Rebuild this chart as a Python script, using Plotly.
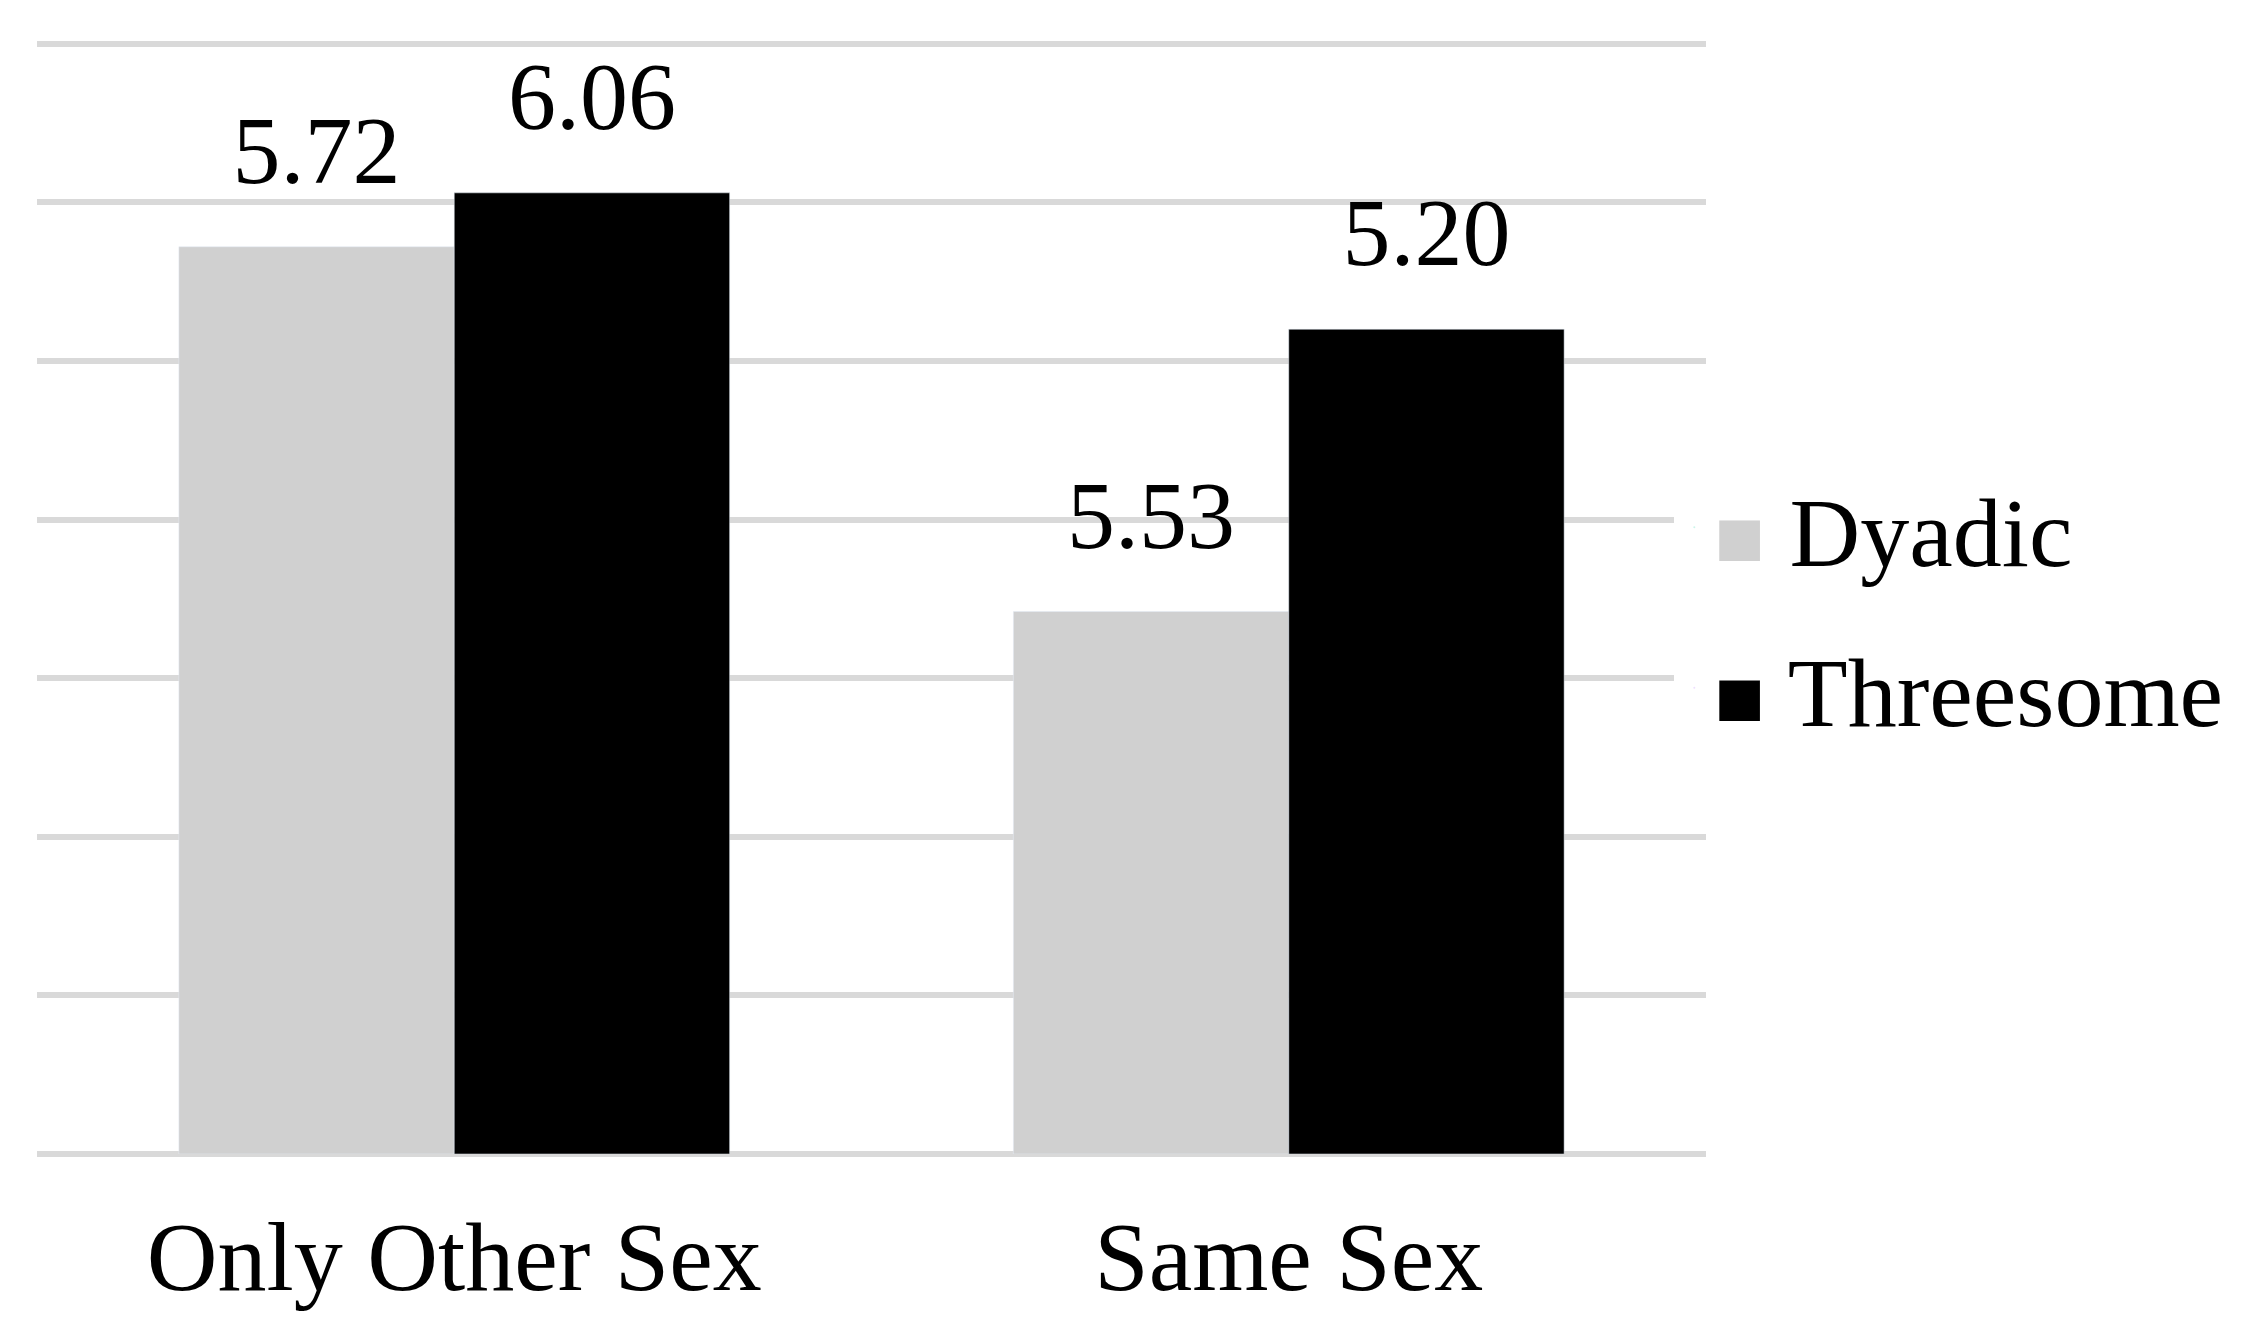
import plotly.graph_objects as go

# categories and series
categories = ["Only Other Sex", "Same Sex"]
series_names = ["Dyadic", "Threesome"]
dyadic = [5.72, 3.42]
threesome = [6.06, 5.20]
dyadic_labels = ["5.72", "5.53"]
threesome_labels = ["6.06", "5.20"]
colors = ["#d0d0d0", "#000000"]

serif = "Liberation Serif, Times New Roman, serif"
# big label on first line, small blank line below it lifts the label off the bar
label_tmpl = "<span style='font-size:96px'>%{text}</span><br>&nbsp;"

fig = go.Figure()
for name, vals, labels, col in zip(series_names, [dyadic, threesome],
                                   [dyadic_labels, threesome_labels], colors):
    fig.add_trace(go.Bar(x=categories, y=vals, name=name, text=labels,
                         texttemplate=label_tmpl, textposition="outside",
                         textfont=dict(family=serif, size=40, color="black"),
                         marker=dict(color=col), cliponaxis=False,
                         showlegend=False))

# legend entries with big square swatches
for i, (name, col) in enumerate(zip(series_names, colors)):
    fig.add_trace(go.Scatter(x=[None], y=[None], mode="markers",
                             marker=dict(opacity=0, size=1),
                             name=f"<span style='color:{col};font-size:84px'>■</span> {name}",
                             legendgroup=f"g{i}"))

fig.update_layout(
    width=2255, height=1335,
    margin=dict(l=29, r=557, t=31, b=189),
    paper_bgcolor="white", plot_bgcolor="white",
    barmode="group", bargap=0.34, bargroupgap=0,
    font=dict(family=serif, size=98, color="black"),
    legend=dict(x=0.981, xanchor="left", y=0.49, yanchor="middle",
                font=dict(size=98), tracegroupgap=30, traceorder="grouped",
                itemwidth=30),
)
fig.update_xaxes(showgrid=False, showline=False, ticks="",
                 ticklabelstandoff=37, tickfont=dict(size=98))
fig.update_yaxes(range=[0, 7.03], dtick=1, showgrid=True, gridcolor="#d9d9d9",
                 gridwidth=6, zeroline=True, zerolinecolor="#d9d9d9",
                 zerolinewidth=6, showticklabels=False, showline=False)

fig.write_html("out.html")
